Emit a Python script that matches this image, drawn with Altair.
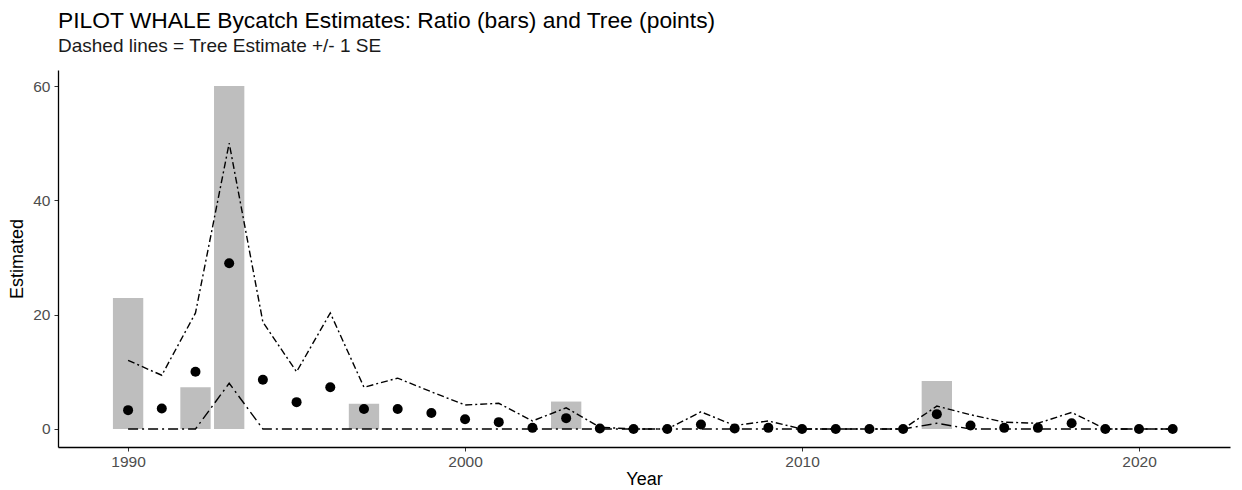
import altair as alt
import pandas as pd

years = list(range(1990, 2022))
tree_est = [3.3, 3.6, 10.0, 29.0, 8.6, 4.7, 7.3, 3.5, 3.5, 2.8, 1.7, 1.2, 0.2, 1.9, 0.1, 0.0,
            0.0, 0.8, 0.1, 0.2, 0.0, 0.0, 0.0, 0.0, 2.6, 0.6, 0.2, 0.2, 1.0, 0.0, 0.0, 0.0]
upper_se = [12.0, 9.4, 20.3, 50.0, 18.7, 10.0, 20.3, 7.3, 8.9, 6.5, 4.2, 4.5, 1.4, 3.7, 0.3, 0.0,
            0.0, 3.0, 0.6, 1.4, 0.0, 0.0, 0.0, 0.0, 4.0, 2.5, 1.2, 1.0, 2.9, 0.0, 0.0, 0.0]
lower_se = [0.0, 0.0, 0.0, 8.0, 0.0, 0.0, 0.0, 0.0, 0.0, 0.0, 0.0, 0.0, 0.0, 0.0, 0.0, 0.0,
            0.0, 0.0, 0.0, 0.0, 0.0, 0.0, 0.0, 0.0, 1.0, 0.0, 0.0, 0.0, 0.0, 0.0, 0.0, 0.0]
ratio_est = [22.9, 0.0, 7.3, 60.0, 0.0, 0.0, 0.0, 4.4, 0.0, 0.0, 0.0, 0.0, 0.0, 4.8, 0.0, 0.0,
             0.0, 0.0, 0.0, 0.0, 0.0, 0.0, 0.0, 0.0, 8.4, 0.0, 0.0, 0.0, 0.0, 0.0, 0.0, 0.0]
x_ticks = [1990, 2000, 2010, 2020]
y_ticks = [0, 20, 40, 60]

df = pd.DataFrame({"Year": years, "Tree": tree_est, "Upper": upper_se,
                   "Lower": lower_se, "Ratio": ratio_est})

xs = alt.Scale(domain=[1987.92, 2022.7], nice=False, zero=False)
ys = alt.Scale(domain=[-3.15, 62.8], nice=False, zero=False)

FONT = "Liberation Sans"
xaxis = alt.Axis(values=x_ticks, format="d", title="Year", grid=False,
                 domainColor="black", domainWidth=1.3, tickColor="#333333", tickSize=4,
                 labelColor="#4d4d4d", labelFontSize=15.5, labelFont=FONT,
                 titleFont=FONT, titleFontSize=18, titleFontWeight="normal",
                 titleColor="black", labelPadding=3, titlePadding=1)
yaxis = alt.Axis(values=y_ticks, title="Estimated", grid=False,
                 domainColor="black", domainWidth=1.3, tickColor="#333333", tickSize=4,
                 labelColor="#4d4d4d", labelFontSize=15.5, labelFont=FONT,
                 titleFont=FONT, titleFontSize=18, titleFontWeight="normal",
                 titleColor="black", labelPadding=4, titlePadding=6)

base = alt.Chart(df)

bars = base.transform_calculate(
    x0="datum.Year - 0.45", x1="datum.Year + 0.45"
).mark_rect(color="#bebebe").encode(
    x=alt.X("x0:Q", scale=xs, axis=xaxis),
    x2="x1:Q",
    y=alt.Y("Ratio:Q", scale=ys, axis=yaxis),
    y2=alt.datum(0),
)

upper = base.mark_line(color="black", strokeWidth=1.4, strokeDash=[7, 3, 2, 3]).encode(
    x=alt.X("Year:Q", scale=xs), y=alt.Y("Upper:Q", scale=ys))
lower = base.mark_line(color="black", strokeWidth=1.4, strokeDash=[10, 4, 2, 4]).encode(
    x=alt.X("Year:Q", scale=xs), y=alt.Y("Lower:Q", scale=ys))
points = base.mark_circle(color="black", size=100, opacity=1).encode(
    x=alt.X("Year:Q", scale=xs), y=alt.Y("Tree:Q", scale=ys))

chart = alt.layer(bars, upper, lower, points).properties(
    width=1172, height=377,
    background="white",
    title=alt.TitleParams(
        text="PILOT WHALE Bycatch Estimates: Ratio (bars) and Tree (points)",
        subtitle="Dashed lines = Tree Estimate +/- 1 SE",
        anchor="start", frame="group", font=FONT, fontSize=22.8,
        fontWeight="normal", color="black", subtitleFont=FONT,
        subtitleFontSize=19, subtitleColor="#1a1a1a", subtitlePadding=4, offset=14),
    autosize=alt.AutoSizeParams(type="none"),
    padding={"left": 50, "top": 62, "right": 4, "bottom": 42},
).configure_view(strokeWidth=0)

chart.save("out.html", embed_options={"renderer": "svg", "actions": False})
